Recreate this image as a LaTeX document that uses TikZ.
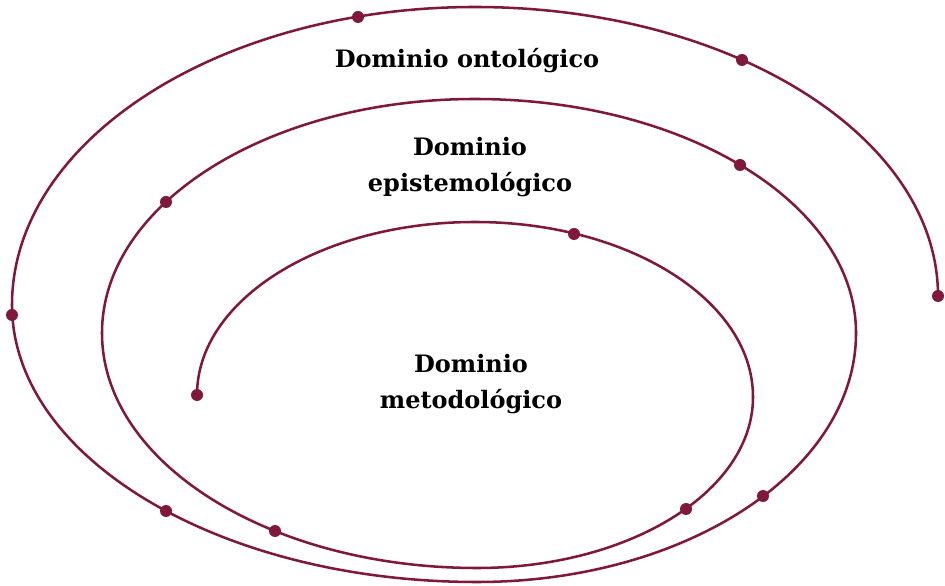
\documentclass[tikz,border=0pt]{standalone}
\usepackage{fontspec}
\setmainfont{DejaVu Serif}
\usetikzlibrary{positioning}
\definecolor{spiralred}{RGB}{128,24,60}

\begin{document}
\begin{tikzpicture}[x=0.75pt,y=0.75pt,
spiral/.style ={draw=spiralred ,line width=1.9pt},
dot/.style ={circle ,fill=spiralred ,inner sep=0pt ,minimum size=9pt},
domtext/.style ={font=\fontsize{18}{27}\selectfont\bfseries ,align=center ,text=black}]

\useasboundingbox (0,0) rectangle (945,585);

\node[dot] (d1) at (358,568) {};
\node[dot] (d2) at (742,525) {};
\node[dot] (d3) at (938,289) {};
\node[dot] (d4) at (12,270) {};
\node[dot] (d5) at (166,74) {};
\node[dot] (d6) at (763,89) {};
\node[dot] (d7) at (740,420) {};
\node[dot] (d8) at (166,383) {};
\node[dot] (d9) at (574,351) {};
\node[dot] (d10) at (197,190) {};
\node[dot] (d11) at (686,76) {};
\node[dot] (d12) at (275,54) {};

\path[spiral] (d10.center)
  arc[start angle=180,end angle=90,x radius=278,y radius=173]
  arc[start angle=90,end angle=0,x radius=278,y radius=175]
  arc[start angle=0,end angle=-90,x radius=276,y radius=171]
  arc[start angle=270,end angle=180,x radius=375,y radius=235]
  arc[start angle=180,end angle=90,x radius=373,y radius=234]
  arc[start angle=90,end angle=0,x radius=381,y radius=234]
  arc[start angle=0,end angle=-90,x radius=379,y radius=249]
  arc[start angle=270,end angle=180,x radius=465,y radius=277]
  arc[start angle=180,end angle=90,x radius=463,y radius=298]
  arc[start angle=90,end angle=0,x radius=463,y radius=289];

\node[domtext] (onto) at (467,524) {Dominio ontológico};
\node[domtext] (episte) at (470,418) {Dominio\\epistemológico};
\node[domtext] (metodo) at (471,201) {Dominio\\metodológico};
\end{tikzpicture}
\end{document}
